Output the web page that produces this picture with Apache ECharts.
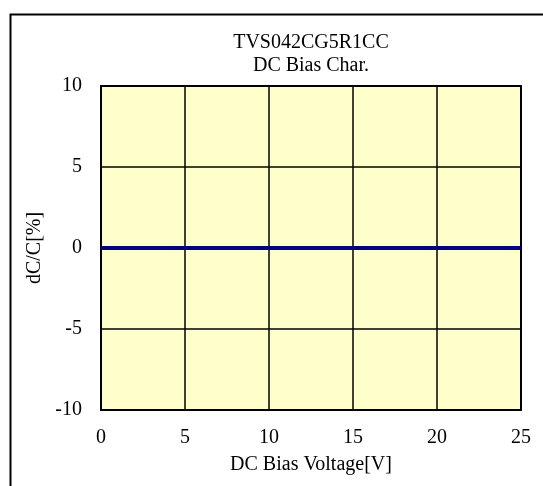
<!DOCTYPE html>
<html>
<head>
<meta charset="utf-8">
<script src="https://cdn.jsdelivr.net/npm/echarts@6/dist/echarts.min.js"></script>
<style>
html,body{margin:0;padding:0;background:#fff;}
#main{width:543px;height:486px;}
</style>
</head>
<body>
<div id="main"></div>
<script>
var titleLines = ['TVS042CG5R1CC', 'DC Bias Char.'];
var xName = 'DC Bias Voltage[V]';
var yName = 'dC/C[%]';
var voltage = [0, 5, 10, 15, 20, 25];
var dcdc = [0, 0, 0, 0, 0, 0];

var font = 'Liberation Serif, Times New Roman, serif';
var fs = 20;
var chart = echarts.init(document.getElementById('main'));
chart.setOption({
  animation: false,
  backgroundColor: '#ffffff',
  graphic: [
    {type: 'rect', left: 8, top: 12, shape: {x: 0, y: 0, width: 700, height: 700},
     style: {fill: 'none', stroke: '#000', lineWidth: 2}, z: -10},
    {type: 'text', x: 311, y: 43, style: {text: titleLines[0], font: fs + 'px ' + font, fill: '#000', textAlign: 'center', textVerticalAlign: 'middle'}},
    {type: 'text', x: 311, y: 66, style: {text: titleLines[1], font: fs + 'px ' + font, fill: '#000', textAlign: 'center', textVerticalAlign: 'middle'}}
  ],
  grid: {left: 101, top: 86, width: 420, height: 324, show: true, backgroundColor: '#FFFFCC', borderColor: '#000', borderWidth: 2},
  xAxis: {
    type: 'value', min: 0, max: 25, interval: 5,
    name: xName, nameLocation: 'middle', nameGap: 45,
    nameTextStyle: {fontFamily: font, fontSize: fs, color: '#000'},
    axisLine: {show: false}, axisTick: {show: false},
    axisLabel: {fontFamily: font, fontSize: fs, color: '#000', margin: 18},
    splitLine: {show: true, lineStyle: {color: '#000', width: 1.5}}
  },
  yAxis: {
    type: 'value', min: -10, max: 10, interval: 5,
    name: yName, nameLocation: 'middle', nameGap: 56,
    nameTextStyle: {fontFamily: font, fontSize: fs, color: '#000'},
    axisLine: {show: false}, axisTick: {show: false},
    axisLabel: {fontFamily: font, fontSize: fs, color: '#000', margin: 19},
    splitLine: {show: true, lineStyle: {color: '#000', width: 1.5}}
  },
  series: [{
    type: 'line', data: voltage.map(function(v, i){ return [v, dcdc[i]]; }),
    showSymbol: false, symbol: 'none',
    lineStyle: {color: '#000080', width: 4}, z: 5
  }]
});
</script>
</body>
</html>
